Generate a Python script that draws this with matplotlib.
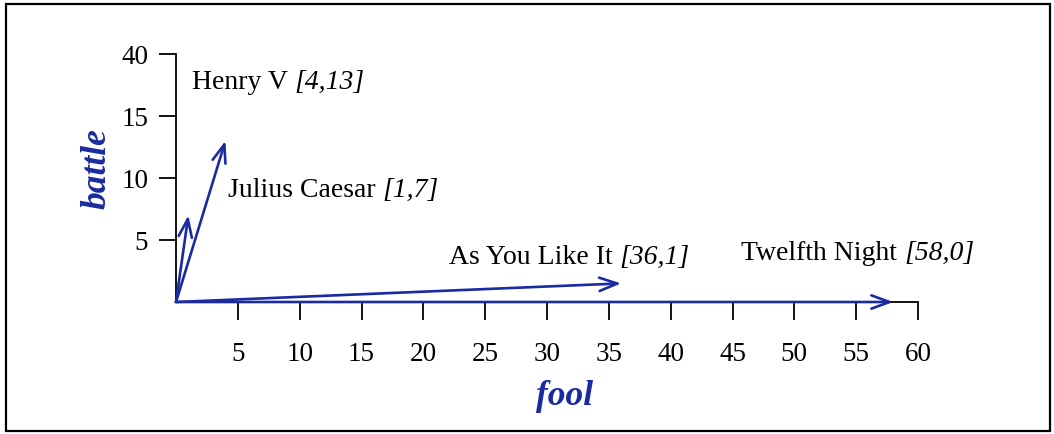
import matplotlib
matplotlib.use('Agg')
import matplotlib.pyplot as plt
import matplotlib.patches as patches
from matplotlib.transforms import offset_copy

# data: counts of "fool" and "battle" per play
plays = ['Henry V', 'Julius Caesar', 'As You Like It', 'Twelfth Night']
fool = [4, 1, 36, 58]
battle = [13, 7, 1.5, 0]
coord_labels = ['[4,13]', '[1,7]', '[36,1]', '[58,0]']

xtick_values = [5, 10, 15, 20, 25, 30, 35, 40, 45, 50, 55, 60]
ytick_values = [5, 10, 15, 20]
ytick_labels = ['5', '10', '15', '40']

# where the play names sit (data coords, left/baseline)
label_pos = [(1.3, 17.2), (4.2, 8.5), (22.1, 3.1), (45.7, 3.4)]

blue = '#1a2aa0'
serif = 'Liberation Serif'

fig = plt.figure(figsize=(10.54, 4.34), dpi=100)
ax = fig.add_axes([176/1054, 132/434, 742/1054, 248/434])

ax.set_xlim(0, 60)
ax.set_ylim(0, 20)
ax.spines['top'].set_visible(False)
ax.spines['right'].set_visible(False)
for s in ['left', 'bottom']:
    ax.spines[s].set_linewidth(1.3)

ax.set_xticks(xtick_values)
ax.set_xticklabels([str(v) for v in xtick_values], fontfamily=serif, fontsize=19.5)
ax.set_yticks(ytick_values)
ax.set_yticklabels(ytick_labels, fontfamily=serif, fontsize=19.5)
ax.tick_params(axis='x', direction='out', length=13, width=1.3, pad=16)
ax.tick_params(axis='y', direction='out', length=12, width=1.3, pad=8)

# vectors
for fx, by in zip(fool, battle):
    ax.annotate('', xy=(fx, by), xytext=(0, 0),
                arrowprops=dict(arrowstyle='->,head_length=0.65,head_width=0.24',
                                mutation_scale=20, lw=1.9, color=blue,
                                shrinkA=0, shrinkB=0),
                annotation_clip=False)

names = []
for name, (lx, ly) in zip(plays, label_pos):
    t = ax.text(lx, ly, name, fontfamily=serif, fontsize=20,
                ha='left', va='baseline')
    names.append(t)

fig.canvas.draw()
renderer = fig.canvas.get_renderer()
for t, cl, (lx, ly) in zip(names, coord_labels, label_pos):
    bb = t.get_window_extent(renderer)
    x1 = ax.transData.inverted().transform((bb.x1, 0))[0]
    ax.text(x1, ly, cl, fontfamily=serif, fontsize=20, style='italic',
            ha='left', va='baseline',
            transform=offset_copy(ax.transData, fig=fig, x=5, units='points'))

ax.set_xlabel('fool', fontfamily=serif, fontsize=25.5, fontweight='bold',
              style='italic', color=blue)
ax.xaxis.set_label_coords(0.524, -0.38)
ax.xaxis.label.set_va('center')
ax.set_ylabel('battle', fontfamily=serif, fontsize=25.5, fontweight='bold',
              style='italic', color=blue)
ax.yaxis.set_label_coords(-0.106, 0.54)
ax.yaxis.label.set_va('center')

# outer frame
frame = patches.Rectangle((6/1054, 3/434), 1044/1054, 427/434,
                          transform=fig.transFigure, fill=False,
                          edgecolor='black', lw=1.6)
fig.patches.append(frame)

fig.savefig('out.png', dpi=100)
